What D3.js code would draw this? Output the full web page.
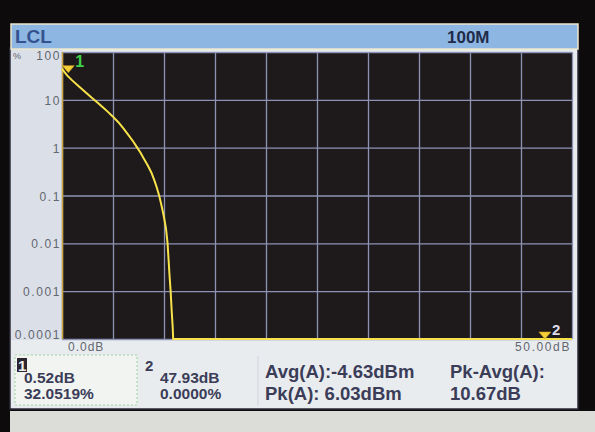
<!DOCTYPE html>
<html>
<head>
<meta charset="utf-8">
<script src="https://cdn.jsdelivr.net/npm/d3@7"></script>
<style>
  body { margin: 0; background: #0d0b0c; }
  svg { display: block; font-family: "Liberation Sans", Arial, sans-serif; }
</style>
</head>
<body>
<svg width="595" height="432"></svg>
<script>
// CCDF trace (dB above average, % probability)
const traceDb  = [0, 0.25, 0.52, 1, 1.5, 2, 2.5, 2.92, 3.5, 4, 4.5, 4.97, 5.5, 6, 6.5, 7, 7.31, 7.7, 8, 8.4, 8.77,
                  9.1, 9.3, 9.55, 9.8, 10, 10.2, 10.35, 10.45, 10.55, 10.65, 10.75, 10.85, 10.9, 11, 50];
const tracePct = [45, 38, 32.05, 25.5, 20.5, 16.5, 13.2, 11, 8.7, 7, 5.6, 4.5, 3.45, 2.55, 1.85, 1.33, 1.05, 0.78, 0.6, 0.43, 0.3,
                  0.195, 0.145, 0.095, 0.056, 0.035, 0.02, 0.01, 0.0045, 0.002, 0.001, 0.0004, 0.00018, 0.0001, 0, 0];
const yTicks = [100, 10, 1, 0.1, 0.01, 0.001, 0.0001];
const yTickLabels = ["100", "10", "1", "0.1", "0.01", "0.001", "0.0001"];
const xTicks = [0, 5, 10, 15, 20, 25, 30, 35, 40, 45, 50];
const markers = [{ id: "1", db: 0.52, pct: 32.05 }, { id: "2", db: 47.93, pct: 0 }];
const readouts = [
  { label: "1", lines: ["0.52dB", "32.0519%"] },
  { label: "2", lines: ["47.93dB", "0.0000%"] }
];
const stats = [["Avg(A):-4.63dBm", "Pk(A): 6.03dBm"], ["Pk-Avg(A):", "10.67dB"]];

const svg = d3.select("svg");
const plot = { left: 62, right: 572, top: 52, bottom: 339 };
const ink = "#3b3d58";

// screen frame + panels
svg.append("rect").attr("width", 595).attr("height", 432).attr("fill", "#0d0b0c");
svg.append("rect").attr("x", 10).attr("y", 411).attr("width", 585).attr("height", 21).attr("fill", "#dcdcd8");
svg.append("rect").attr("x", 10).attr("y", 48).attr("width", 568).attr("height", 361).attr("fill", "#e9ecef")
  .attr("stroke", "#2a2a3a").attr("stroke-width", 1.5);
svg.append("rect").attr("x", 11).attr("y", 48).attr("width", 51).attr("height", 292).attr("fill", "#dbe0e8");

// title bar
svg.append("rect").attr("x", 11).attr("y", 24).attr("width", 567).attr("height", 25).attr("fill", "#8db6e2")
  .attr("stroke", "#ece6cc").attr("stroke-width", 1.5);
svg.append("text").attr("x", 15).attr("y", 43).attr("font-size", 19).attr("font-weight", "bold")
  .attr("fill", "#34528f").text("LCL");
svg.append("text").attr("x", 447).attr("y", 43).attr("font-size", 17).attr("font-weight", "bold")
  .attr("fill", "#1f2b4a").text("100M");

const x = d3.scaleLinear().domain([0, 50]).range([plot.left, plot.right]);
const y = d3.scaleLog().domain([0.0001, 100]).range([plot.bottom, plot.top]).clamp(true);

svg.append("rect").attr("x", plot.left).attr("y", plot.top)
  .attr("width", plot.right - plot.left).attr("height", plot.bottom - plot.top).attr("fill", "#1e191b");

// grid
svg.append("g").attr("transform", `translate(0,${plot.bottom})`)
  .call(d3.axisBottom(x).tickValues(xTicks).tickSize(-(plot.bottom - plot.top)).tickFormat(""))
  .call(g => g.select(".domain").remove())
  .call(g => g.selectAll("line").attr("stroke", "#8d93b5").attr("stroke-width", 1.3));
svg.append("g").attr("transform", `translate(${plot.left},0)`)
  .call(d3.axisLeft(y).tickValues(yTicks).tickSize(-(plot.right - plot.left)).tickFormat(""))
  .call(g => g.select(".domain").remove())
  .call(g => g.selectAll("line").attr("stroke", "#8d93b5").attr("stroke-width", 1.3));

// y labels
svg.append("g").selectAll("text").data(yTicks).join("text")
  .attr("x", 61)
  .attr("y", (d, i) => i === 0 ? y(d) + 8 : i === yTicks.length - 1 ? y(d) : y(d) + 5)
  .attr("text-anchor", "end").attr("font-size", 12).attr("letter-spacing", 1.6).attr("fill", "#62666f")
  .text((d, i) => yTickLabels[i]);
svg.append("text").attr("x", 13).attr("y", 59).attr("font-size", 9).attr("fill", "#62666f").text("%");

// x labels
svg.append("text").attr("x", 68).attr("y", 351).attr("font-size", 12).attr("letter-spacing", 1)
  .attr("fill", "#62666f").text("0.0dB");
svg.append("text").attr("x", 571).attr("y", 351).attr("text-anchor", "end").attr("font-size", 12)
  .attr("letter-spacing", 1.6).attr("fill", "#62666f").text("50.00dB");

// trace
svg.append("line").attr("x1", plot.left + 0.5).attr("x2", plot.left + 0.5)
  .attr("y1", plot.top).attr("y2", plot.bottom).attr("stroke", "#c9a43e").attr("stroke-width", 1.5);
const pts = traceDb.map((d, i) => [d, Math.max(tracePct[i], 0.0001)]);
svg.append("path").datum(pts)
  .attr("fill", "none").attr("stroke", "#f7e24a").attr("stroke-width", 2)
  .attr("d", d3.line().x(d => x(d[0])).y(d => y(d[1])));

// markers
const mk = svg.append("g").selectAll("g").data(markers).join("g")
  .attr("transform", d => d.id === "1"
    ? `translate(${x(d.db) + 1},${y(d.pct) - 6})`
    : `translate(${x(d.db) - 6},${plot.bottom - 3})`);
mk.append("path").attr("d", "M-6,-4L6,-4L0,3Z").attr("fill", "#f2cf36").attr("stroke", "#c89a20").attr("stroke-width", 0.6);
mk.append("text").attr("x", 7).attr("y", d => d.id === "1" ? -3 : -1)
  .attr("font-size", d => d.id === "1" ? 16 : 15).attr("font-weight", "bold")
  .attr("fill", d => d.id === "1" ? "#3fd24a" : "#dcdce8").text(d => d.id);

// readout boxes
svg.append("rect").attr("x", 15).attr("y", 355).attr("width", 122).attr("height", 50)
  .attr("fill", "#f1f4f1").attr("stroke", "#9ad49a").attr("stroke-dasharray", "2,2");
svg.append("line").attr("x1", 258).attr("x2", 258).attr("y1", 356).attr("y2", 405).attr("stroke", "#cfd3da");
svg.append("rect").attr("x", 17).attr("y", 358).attr("width", 10).attr("height", 14).attr("fill", "#2a2530");
const rd = svg.append("g").selectAll("g").data(readouts).join("g")
  .attr("transform", (d, i) => `translate(${i === 0 ? 18 : 145},0)`);
rd.append("text").attr("x", 0).attr("y", 371).attr("font-size", 15).attr("font-weight", "bold")
  .attr("fill", (d, i) => i === 0 ? "#f0f0f0" : ink).text(d => d.label);
rd.selectAll(".v").data(d => d.lines).join("text").attr("class", "v")
  .attr("x", function () { return d3.select(this.parentNode).datum().label === "1" ? 6 : 15; })
  .attr("y", (d, i) => 383 + i * 16)
  .attr("font-size", 15.5).attr("font-weight", "bold").attr("fill", ink).text(d => d);

svg.append("g").selectAll("g").data(stats).join("g")
  .attr("transform", (d, i) => `translate(${i === 0 ? 265 : 450},0)`)
  .selectAll("text").data(d => d).join("text")
  .attr("y", (d, i) => 378 + i * 22)
  .attr("font-size", 18.5).attr("font-weight", "bold").attr("fill", ink).text(d => d);
</script>
</body>
</html>
